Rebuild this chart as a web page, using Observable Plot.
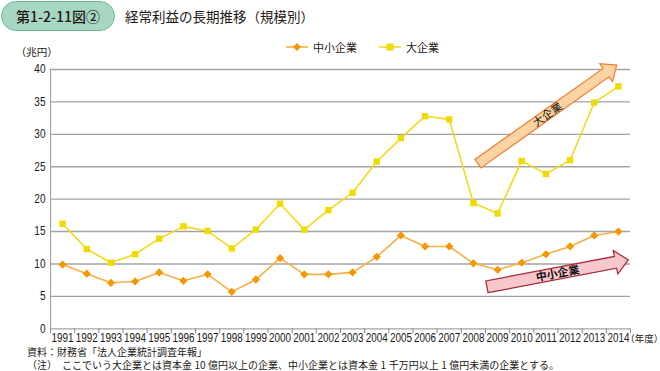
<!DOCTYPE html>
<html><head><meta charset="utf-8">
<script src="https://cdn.jsdelivr.net/npm/d3@7"></script>
<script src="https://cdn.jsdelivr.net/npm/@observablehq/plot@0.6"></script>
<style>
body{margin:0;background:#fff;font-family:"Noto Sans CJK JP","Noto Sans",sans-serif;color:#231815;}
#wrap{position:relative;width:660px;height:371px;overflow:hidden;}
.abs{position:absolute;white-space:nowrap;}
.po{margin-left:-0.5em;}
.pc{margin-right:-0.5em;}
#pill{left:1px;top:1px;width:112px;height:28px;border:1.5px solid #6cb89a;background:#a6d7c3;border-radius:15px;text-align:center;line-height:28px;font-size:14px;font-weight:500;color:#231815;}
#title{left:125px;top:6px;font-size:13.5px;line-height:20px;}
#unit{left:21px;top:45px;font-size:10.5px;line-height:13px;}
#legend{left:285px;top:39px;font-size:11px;display:flex;align-items:center;height:16px;}
#legend span{display:inline-flex;align-items:center;}
#chart{position:absolute;left:0;top:40px;}
#nendo{left:630px;top:332px;font-size:9.5px;line-height:12px;}
#note1{left:27px;top:346px;font-size:10px;line-height:12px;}
#note2{left:27px;top:359px;font-size:10px;line-height:12px;}
.num{margin:0 2.5px;}
</style></head>
<body><div id="wrap">
<div id="pill" class="abs">第1-2-11図②</div>
<div id="title" class="abs">経常利益の長期推移（規模別）</div>
<div id="unit" class="abs"><span class="po">（</span>兆円<span class="pc">）</span></div>
<div id="legend" class="abs"></div>
<div id="chart"></div>
<div id="nendo" class="abs"><span class="po">（</span>年度<span class="pc">）</span></div>
<div id="note1" class="abs">資料：財務省「法人企業統計調査年報」</div>
<div id="note2" class="abs">（注）　ここでいう大企業とは資本金<span class="num">10</span>億円以上の企業、中小企業とは資本金<span class="num">1</span>千万円以上<span class="num">1</span>億円未満の企業とする。</div>
</div>
<script>
const years = [1991,1992,1993,1994,1995,1996,1997,1998,1999,2000,2001,2002,2003,2004,2005,2006,2007,2008,2009,2010,2011,2012,2013,2014];
const large = [16.2,12.3,10.2,11.5,13.9,15.8,15.1,12.4,15.3,19.3,15.3,18.3,21.0,25.8,29.4,32.8,32.3,19.4,17.8,25.9,23.9,26.0,34.9,37.4];
const sme = [9.9,8.5,7.1,7.3,8.7,7.4,8.4,5.7,7.6,10.9,8.4,8.4,8.7,11.1,14.4,12.7,12.7,10.1,9.1,10.2,11.5,12.7,14.4,15.0];
const yTicks = [0,5,10,15,20,25,30,35,40];
const seriesNames = ["中小企業","大企業"];
const seriesLine = ["#f7ae45","#efdb1c"];
const seriesDot = ["#f39800","#f0da00"];
const seriesSymbol = ["diamond2","square"];
// annotation arrows in data coordinates (year, value)
const arrowLabels = ["大企業","中小企業"];
const arrowFrom = [[2008.21,25.4],[2008.58,6.4]];
const arrowTo = [[2013.95,40.6],[2014.43,10.55]];
const arrowFill = ["#fcd3a2","#f7c7cc"];
const arrowStroke = ["#ee7d30","#a8283b"];

const boundaries = years.map(y => y - 0.5).concat([years[years.length-1] + 0.5]);
const rows = years.flatMap((yr,i) => [
  {year: yr, value: sme[i], s: 0},
  {year: yr, value: large[i], s: 1}
]);
const numFont = '"Liberation Sans",sans-serif';

function arrowsMark(index, scales, values, dims) {
  const ns = "http://www.w3.org/2000/svg";
  const g = document.createElementNS(ns, "g");
  arrowLabels.forEach((lab, i) => {
    const tx = scales.x(arrowFrom[i][0]), ty = scales.y(arrowFrom[i][1]);
    const px = scales.x(arrowTo[i][0]), py = scales.y(arrowTo[i][1]);
    const dx = px - tx, dy = py - ty, L = Math.hypot(dx, dy);
    const ux = dx / L, uy = dy / L, nx = -uy, ny = ux;
    const w = i === 0 ? 5.2 : 6, hw = i === 0 ? 11 : 12, hl = 13;
    const bx = px - ux * hl, by = py - uy * hl;
    const pts = [
      [tx + nx*w, ty + ny*w], [bx + nx*w, by + ny*w], [bx + nx*hw, by + ny*hw],
      [px, py], [bx - nx*hw, by - ny*hw], [bx - nx*w, by - ny*w], [tx - nx*w, ty - ny*w]
    ];
    const poly = document.createElementNS(ns, "polygon");
    poly.setAttribute("points", pts.map(p => p.join(",")).join(" "));
    poly.setAttribute("fill", arrowFill[i]);
    poly.setAttribute("stroke", arrowStroke[i]);
    poly.setAttribute("stroke-width", "1.2");
    g.appendChild(poly);
    const t = document.createElementNS(ns, "text");
    const mx = (tx + px) / 2, my = (ty + py) / 2;
    const ang = Math.atan2(dy, dx) * 180 / Math.PI;
    t.setAttribute("transform", `translate(${mx},${my}) rotate(${ang})`);
    t.setAttribute("text-anchor", "middle");
    t.setAttribute("dy", "0.36em");
    t.setAttribute("font-size", "11");
    t.setAttribute("font-weight", i === 1 ? "700" : "400");
    t.setAttribute("fill", "#111");
    t.setAttribute("font-family", '"Noto Sans CJK JP",sans-serif');
    t.textContent = lab;
    g.appendChild(t);
  });
  return g;
}

const chart = Plot.plot({
  width: 660, height: 305,
  marginLeft: 50, marginRight: 30, marginTop: 29, marginBottom: 16.7,
  style: {fontFamily: numFont, fontSize: "12px", color: "#231815", background: "transparent"},
  x: {domain: [years[0] - 0.5, years[years.length-1] + 0.5], axis: null},
  y: {domain: [0, 40], axis: null},
  marks: [
    Plot.ruleY(yTicks.slice(1), {stroke: "#a3a3a3", strokeWidth: 1.4, strokeOpacity: 1}),
    Plot.ruleY([0], {stroke: "#a3a3a3", strokeWidth: 1.2}),
    Plot.ruleX([boundaries[0]], {y1: 0, y2: 40, stroke: "#a3a3a3", strokeWidth: 1.2}),
    Plot.axisX({ticks: boundaries, tickSize: 5, tickFormat: () => "", label: null, stroke: "#8a8a8a", strokeWidth: 1}),
    Plot.axisX({ticks: years, tickSize: 0, tickPadding: 5, tickFormat: d => String(d), label: null, fontSize: 12, fill: "#231815"}),
    Plot.axisY({ticks: yTicks, tickSize: 0, tickPadding: 5, tickFormat: d => String(d), label: null, fontSize: 12, fill: "#231815"}),
    Plot.line(rows.filter(d => d.s === 1), {x: "year", y: "value", stroke: seriesLine[1], strokeWidth: 1.6}),
    Plot.line(rows.filter(d => d.s === 0), {x: "year", y: "value", stroke: seriesLine[0], strokeWidth: 1.6}),
    Plot.dot(rows.filter(d => d.s === 1), {x: "year", y: "value", symbol: seriesSymbol[1], r: 3.6, fill: seriesDot[1], stroke: "none"}),
    Plot.dot(rows.filter(d => d.s === 0), {x: "year", y: "value", symbol: seriesSymbol[0], r: 3.7, fill: seriesDot[0], stroke: "none"}),
    arrowsMark
  ]
});
// condense numeric tick labels to mimic the narrow typeface
d3.select(chart).selectAll('g[aria-label="x-axis tick label"] text')
  .filter(function() { return this.textContent.length > 0; })
  .attr("textLength", 22).attr("lengthAdjust", "spacingAndGlyphs");
d3.select(chart).selectAll('g[aria-label="y-axis tick label"] text')
  .attr("textLength", function() { return this.textContent.length * 5.6; })
  .attr("lengthAdjust", "spacingAndGlyphs");
document.getElementById("chart").appendChild(chart);

// legend
const leg = document.getElementById("legend");
seriesNames.forEach((nm, i) => {
  const sp = document.createElement("span");
  sp.style.marginRight = i === 0 ? "21px" : "0";
  const sym = i === 0
    ? `<path d="M12,4 L16,8 L12,12 L8,8Z" fill="${seriesDot[0]}"/>`
    : `<rect x="8.5" y="4.5" width="7" height="7" fill="${seriesDot[1]}"/>`;
  sp.innerHTML = `<svg width="24" height="16"><line x1="1" x2="23" y1="8" y2="8" stroke="${seriesLine[i]}" stroke-width="1.6"/>${sym}</svg><span style="margin-left:4px">${nm}</span>`;
  leg.appendChild(sp);
});
</script>
</body></html>
